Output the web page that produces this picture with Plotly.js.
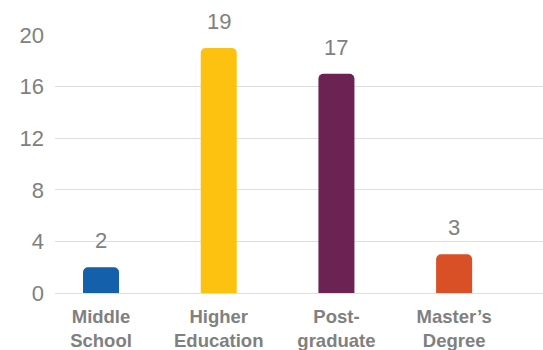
<!DOCTYPE html>
<html>
<head>
<meta charset="utf-8">
<script src="https://cdn.plot.ly/plotly-3.0.1.min.js"></script>
<style>html,body{margin:0;padding:0;background:#fff;}#chart{width:543px;height:350px;}</style>
</head>
<body>
<div id="chart"></div>
<script>
const categories = ["Middle<br>School", "Higher<br>Education", "Post-<br>graduate", "Master’s<br>Degree"];
const values = [2, 19, 17, 3];
const colors = ["#1560aa", "#fdc20f", "#6c2353", "#d94f26"];
const yTicks = [0, 4, 8, 12, 16, 20];

const trace = {
  type: "bar",
  x: categories,
  y: values,
  marker: { color: colors, cornerradius: 5 },
  width: 0.306,
  hoverinfo: "none"
};

const annotations = values.map((v, i) => ({
  x: categories[i], y: v, xref: "x", yref: "y",
  text: String(v), showarrow: false,
  yanchor: "bottom", yshift: 12,
  font: { family: "Liberation Sans, Arial, sans-serif", size: 22, color: "#808080" }
}));

const layout = {
  width: 543, height: 350,
  margin: { l: 55, r: 0, t: 35, b: 57, pad: 0 },
  paper_bgcolor: "#fff", plot_bgcolor: "#fff",
  showlegend: false,
  xaxis: {
    range: [-0.391, 3.755],
    tickfont: { family: "Liberation Sans, Arial, sans-serif", size: 18.5, color: "#808080", weight: "bold" },
    showgrid: false, zeroline: false, showline: false,
    ticks: "", ticklabelstandoff: 10, fixedrange: true
  },
  yaxis: {
    range: [0, 20],
    tickvals: yTicks,
    ticktext: yTicks.map(String),
    tickfont: { family: "Liberation Sans, Arial, sans-serif", size: 22, color: "#808080" },
    gridcolor: "#dedede", gridwidth: 1,
    zeroline: true, zerolinecolor: "#dedede", zerolinewidth: 1,
    showline: false, ticks: "", ticklabelstandoff: 10, fixedrange: true
  },
  annotations: annotations,
  font: { family: "Liberation Sans, Arial, sans-serif" }
};

Plotly.newPlot("chart", [trace], layout, { displayModeBar: false, staticPlot: true });
</script>
</body>
</html>
